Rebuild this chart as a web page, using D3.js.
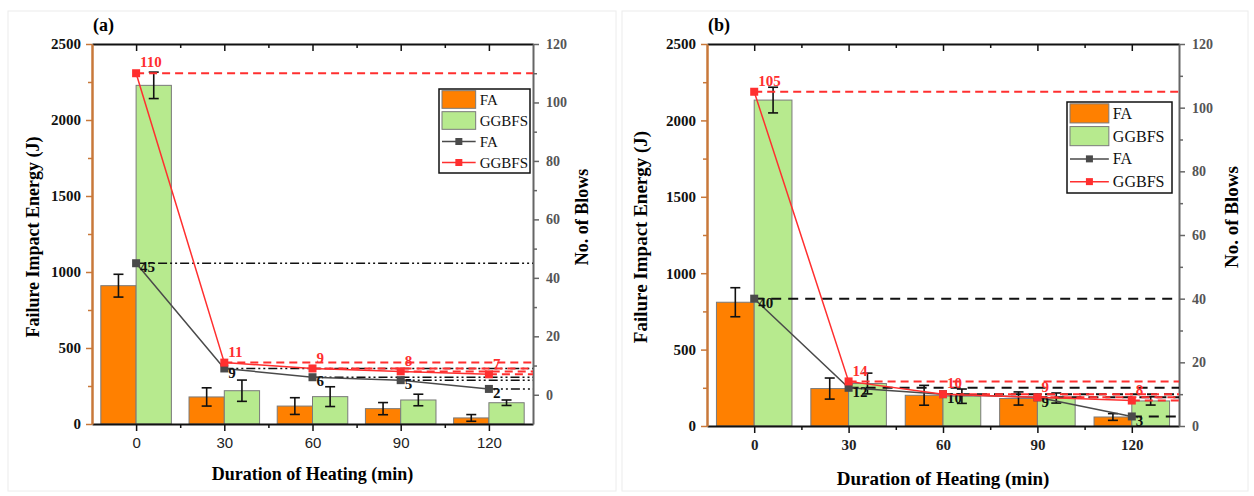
<!DOCTYPE html>
<html>
<head>
<meta charset="utf-8">
<script src="https://cdn.jsdelivr.net/npm/d3@7"></script>
<style>
  body { margin: 0; background: #fff; }
</style>
</head>
<body>
<script>

// ---- data ----
const durations = [0, 30, 60, 90, 120];

// panel (a)
const faEnergyA = [910, 178, 118, 101, 40];
const faErrA = [75, 60, 55, 40, 22];
const ggbfsEnergyA = [2228, 219, 180, 158, 140];
const ggbfsErrA = [87, 70, 65, 38, 18];
const faBlowsA = [45, 9, 6, 5, 2];
const ggbfsBlowsA = [110, 11, 9, 8, 7];

// panel (b)
const faEnergyB = [810, 245, 201, 180, 59];
const faErrB = [95, 69, 65, 43, 22];
const ggbfsEnergyB = [2133, 278, 195, 183, 164];
const ggbfsErrB = [84, 68, 47, 33, 27];
const faBlowsB = [40, 12, 10, 9, 3];
const ggbfsBlowsB = [105, 14, 10, 9, 8];

// ticks
const energyTicks = [0, 500, 1000, 1500, 2000, 2500];
const energyMinor = [250, 750, 1250, 1750, 2250];
const blowsTicks = [0, 20, 40, 60, 80, 100, 120];
const blowsMinor = [10, 30, 50, 70, 90, 110];
const durationMinor = [15, 45, 75, 105];
const legendNames = ["FA", "GGBFS"];

const ORANGE = "#ff8000";
const GREEN = "#b7ea8e";
const RED = "#ff2f2f";
const GREY = "#4a4a4a";
const SERIF = "Liberation Serif, Times New Roman, serif";

const svg = d3.select('body')
    .append('svg')
    .attr("width", 1254)
    .attr("height", 496)
    .attr("font-family", SERIF);

const panels = [
    {
        tag: "(a)", x0: 92, x1: 533, yTop: 44, yBot: 424,
        blowsDomain: [-10, 120],
        fa: faEnergyA, faErr: faErrA, gg: ggbfsEnergyA, ggErr: ggbfsErrA,
        faBlows: faBlowsA, ggBlows: ggbfsBlowsA,
        faDash: "9,3,2,3,2,3", faDashW: 1.5,
        xTickFont: "Liberation Sans, Arial, sans-serif", xTickBold: false,
        frame: [8, 11, 608, 480],
        legend: { x: 439, y: 89, w: 91, h: 84, fs: 15 },
        leftTitleX: 33, rightTitleX: 582, xTitleY: 474, titleFs: 18, labelFs: 15
    },
    {
        tag: "(b)", x0: 707, x1: 1179, yTop: 44, yBot: 426,
        blowsDomain: [0, 120],
        fa: faEnergyB, faErr: faErrB, gg: ggbfsEnergyB, ggErr: ggbfsErrB,
        faBlows: faBlowsB, ggBlows: ggbfsBlowsB,
        faDash: "10,7", faDashW: 2,
        xTickFont: SERIF, xTickBold: true,
        frame: [622, 11, 626, 480],
        legend: { x: 1067, y: 102, w: 105, h: 91, fs: 16 },
        leftTitleX: 640, rightTitleX: 1231, xTitleY: 478, titleFs: 19, labelFs: 15
    }
];

panels.forEach(drawPanel);

function drawPanel(p) {
    const g = svg.append('g');

    g.append('rect')
        .attr('x', p.frame[0]).attr('y', p.frame[1])
        .attr('width', p.frame[2]).attr('height', p.frame[3])
        .attr('fill', 'none').attr('stroke', '#ececec');

    const x = d3.scaleLinear().domain([-15, 135]).range([p.x0, p.x1]);
    const yE = d3.scaleLinear().domain([0, 2500]).range([p.yBot, p.yTop]);
    const yB = d3.scaleLinear().domain(p.blowsDomain).range([p.yBot, p.yTop]);
    const barW = x(12) - x(0);

    // bars
    const bars = [
        { vals: p.fa, err: p.faErr, off: -barW, color: ORANGE },
        { vals: p.gg, err: p.ggErr, off: 0, color: GREEN }
    ];
    bars.forEach(s => {
        const rows = durations.map((d, i) => ({ d: d, v: s.vals[i], e: s.err[i] }));
        g.append('g').selectAll('rect').data(rows).enter().append('rect')
            .attr('x', r => x(r.d) + s.off)
            .attr('y', r => yE(r.v))
            .attr('width', barW)
            .attr('height', r => yE(0) - yE(r.v))
            .attr('fill', s.color)
            .attr('stroke', '#7a7a7a')
            .attr('stroke-width', 1);

        const eb = g.append('g').selectAll('g').data(rows).enter().append('g')
            .attr('stroke', '#111').attr('stroke-width', 1.6);
        const cx = r => x(r.d) + s.off + barW / 2;
        eb.append('line').attr('x1', cx).attr('x2', cx)
            .attr('y1', r => yE(r.v + r.e)).attr('y2', r => yE(r.v - r.e));
        eb.append('line').attr('x1', r => cx(r) - 5).attr('x2', r => cx(r) + 5)
            .attr('y1', r => yE(r.v + r.e)).attr('y2', r => yE(r.v + r.e));
        eb.append('line').attr('x1', r => cx(r) - 5).attr('x2', r => cx(r) + 5)
            .attr('y1', r => yE(r.v - r.e)).attr('y2', r => yE(r.v - r.e));
    });

    // axes
    const xTickText = sel => sel.selectAll('text')
        .attr('font-family', p.xTickFont)
        .attr('font-weight', p.xTickBold ? 'bold' : 'normal')
        .attr('font-size', 15).attr('fill', '#222');

    g.append('g').attr('transform', `translate(0,${p.yBot})`)
        .call(d3.axisBottom(x).tickValues(durationMinor).tickSize(4).tickFormat(''))
        .call(a => a.select('.domain').remove())
        .selectAll('line').attr('stroke', '#111').attr('stroke-width', 1.5);
    g.append('g').attr('transform', `translate(0,${p.yBot})`)
        .call(d3.axisBottom(x).tickValues(durations).tickSize(7).tickPadding(6)
            .tickSizeOuter(0).tickFormat(d3.format('d')))
        .call(a => a.select('.domain').attr('stroke', '#111').attr('stroke-width', 2))
        .call(a => a.selectAll('line').attr('stroke', '#111').attr('stroke-width', 1.5))
        .call(xTickText);

    // top mirror axis, ticks pointing in
    g.append('g').attr('transform', `translate(0,${p.yTop})`)
        .call(d3.axisBottom(x).tickValues(durations).tickSize(7).tickFormat('').tickSizeOuter(0))
        .call(a => a.select('.domain').attr('stroke', '#111').attr('stroke-width', 2))
        .selectAll('line').attr('stroke', '#111').attr('stroke-width', 1.5);
    g.append('g').attr('transform', `translate(0,${p.yTop})`)
        .call(d3.axisBottom(x).tickValues(durationMinor).tickSize(4).tickFormat(''))
        .call(a => a.select('.domain').remove())
        .selectAll('line').attr('stroke', '#111').attr('stroke-width', 1.5);

    // left energy axis
    const leftCol = "#c8783a";
    g.append('g').attr('transform', `translate(${p.x0},0)`)
        .call(d3.axisLeft(yE).tickValues(energyMinor).tickSize(4).tickFormat(''))
        .call(a => a.select('.domain').remove())
        .selectAll('line').attr('stroke', leftCol).attr('stroke-width', 1.5);
    g.append('g').attr('transform', `translate(${p.x0},0)`)
        .call(d3.axisLeft(yE).tickValues(energyTicks).tickSize(6).tickPadding(5)
            .tickSizeOuter(0).tickFormat(d3.format('d')))
        .call(a => a.select('.domain').attr('stroke', leftCol).attr('stroke-width', 2.5))
        .call(a => a.selectAll('line').attr('stroke', leftCol).attr('stroke-width', 1.5))
        .call(a => a.selectAll('text').attr('font-family', SERIF)
            .attr('font-weight', 'bold').attr('font-size', 15).attr('fill', '#111'));

    // right blows axis
    const rightCol = "#666";
    g.append('g').attr('transform', `translate(${p.x1},0)`)
        .call(d3.axisRight(yB).tickValues(blowsMinor).tickSize(4).tickFormat(''))
        .call(a => a.select('.domain').remove())
        .selectAll('line').attr('stroke', rightCol).attr('stroke-width', 1.5);
    g.append('g').attr('transform', `translate(${p.x1},0)`)
        .call(d3.axisRight(yB).tickValues(blowsTicks).tickSize(6).tickPadding(7)
            .tickSizeOuter(0).tickFormat(d3.format('d')))
        .call(a => a.select('.domain').attr('stroke', rightCol).attr('stroke-width', 2))
        .call(a => a.selectAll('line').attr('stroke', rightCol).attr('stroke-width', 1.5))
        .call(a => a.selectAll('text').attr('font-family', SERIF)
            .attr('font-weight', 'bold').attr('font-size', 14).attr('fill', '#555'));

    // blow count series with drop lines to the right axis
    const series = [
        { vals: p.faBlows, color: GREY, dashColor: '#111', dash: p.faDash, dashW: p.faDashW, dy: 4, lblColor: '#111' },
        { vals: p.ggBlows, color: RED, dashColor: RED, dash: "8,5", dashW: 2, dy: -11, lblColor: RED }
    ];
    series.forEach(s => {
        const pts = durations.map((d, i) => ({ d: d, v: s.vals[i] }));
        g.append('g').selectAll('line').data(pts).enter().append('line')
            .attr('x1', r => x(r.d)).attr('x2', p.x1)
            .attr('y1', r => yB(r.v)).attr('y2', r => yB(r.v))
            .attr('stroke', s.dashColor).attr('stroke-width', s.dashW)
            .attr('stroke-dasharray', s.dash);
    });
    series.forEach(s => {
        const pts = durations.map((d, i) => ({ d: d, v: s.vals[i] }));
        g.append('path').datum(pts)
            .attr('fill', 'none').attr('stroke', s.color).attr('stroke-width', 1.5)
            .attr('d', d3.line().x(r => x(r.d)).y(r => yB(r.v)));
        g.append('g').selectAll('rect').data(pts).enter().append('rect')
            .attr('x', r => x(r.d) - 4).attr('y', r => yB(r.v) - 4)
            .attr('width', 8).attr('height', 8)
            .attr('fill', s.color);
        g.append('g').selectAll('text').data(pts).enter().append('text')
            .attr('x', r => x(r.d) + 4).attr('y', r => yB(r.v) + s.dy)
            .attr('dy', '0.35em')
            .attr('font-family', SERIF)
            .attr('font-weight', 'bold').attr('font-size', p.labelFs)
            .attr('fill', s.lblColor)
            .text(r => r.v);
    });

    // titles
    g.append('text').attr('x', p.x0 + 1).attr('y', 31)
        .attr('font-family', SERIF)
        .attr('font-weight', 'bold').attr('font-size', 18).text(p.tag);
    g.append('text')
        .attr('transform', `translate(${p.leftTitleX},237) rotate(-90)`)
        .attr('text-anchor', 'middle').attr('dy', '0.35em')
        .attr('font-family', SERIF)
        .attr('font-weight', 'bold').attr('font-size', p.titleFs)
        .text('Failure Impact Energy (J)');
    g.append('text')
        .attr('transform', `translate(${p.rightTitleX},217) rotate(-90)`)
        .attr('text-anchor', 'middle').attr('dy', '0.35em')
        .attr('font-family', SERIF)
        .attr('font-weight', 'bold').attr('font-size', p.titleFs)
        .text('No. of Blows');
    g.append('text')
        .attr('x', (p.x0 + p.x1) / 2).attr('y', p.xTitleY)
        .attr('text-anchor', 'middle').attr('dy', '0.35em')
        .attr('font-family', SERIF)
        .attr('font-weight', 'bold').attr('font-size', p.titleFs)
        .text('Duration of Heating (min)');

    // legend
    const L = p.legend;
    const lg = g.append('g');
    lg.append('rect').attr('x', L.x).attr('y', L.y).attr('width', L.w).attr('height', L.h)
        .attr('fill', '#fff').attr('stroke', '#111').attr('stroke-width', 1.5);
    const rowH = L.h / 4;
    const items = [
        { type: 'bar', color: ORANGE, name: legendNames[0] },
        { type: 'bar', color: GREEN, name: legendNames[1] },
        { type: 'line', color: GREY, name: legendNames[0] },
        { type: 'line', color: RED, name: legendNames[1] }
    ];
    const patchW = L.w * 0.37;
    items.forEach((it, i) => {
        const cy = L.y + rowH * (i + 0.5);
        if (it.type === 'bar') {
            lg.append('rect').attr('x', L.x + 3).attr('y', cy - rowH * 0.42)
                .attr('width', patchW).attr('height', rowH * 0.84)
                .attr('fill', it.color).attr('stroke', '#7a7a7a');
        } else {
            lg.append('line').attr('x1', L.x + 3).attr('x2', L.x + 3 + patchW)
                .attr('y1', cy).attr('y2', cy)
                .attr('stroke', it.color).attr('stroke-width', 1.5);
            lg.append('rect').attr('x', L.x + 3 + patchW / 2 - 3.5).attr('y', cy - 3.5)
                .attr('width', 7).attr('height', 7).attr('fill', it.color);
        }
        lg.append('text').attr('x', L.x + 7 + patchW).attr('y', cy)
            .attr('dy', '0.35em').attr('font-family', SERIF)
            .attr('font-size', L.fs).attr('fill', '#111')
            .text(it.name);
    });
}
</script>
</body>
</html>
